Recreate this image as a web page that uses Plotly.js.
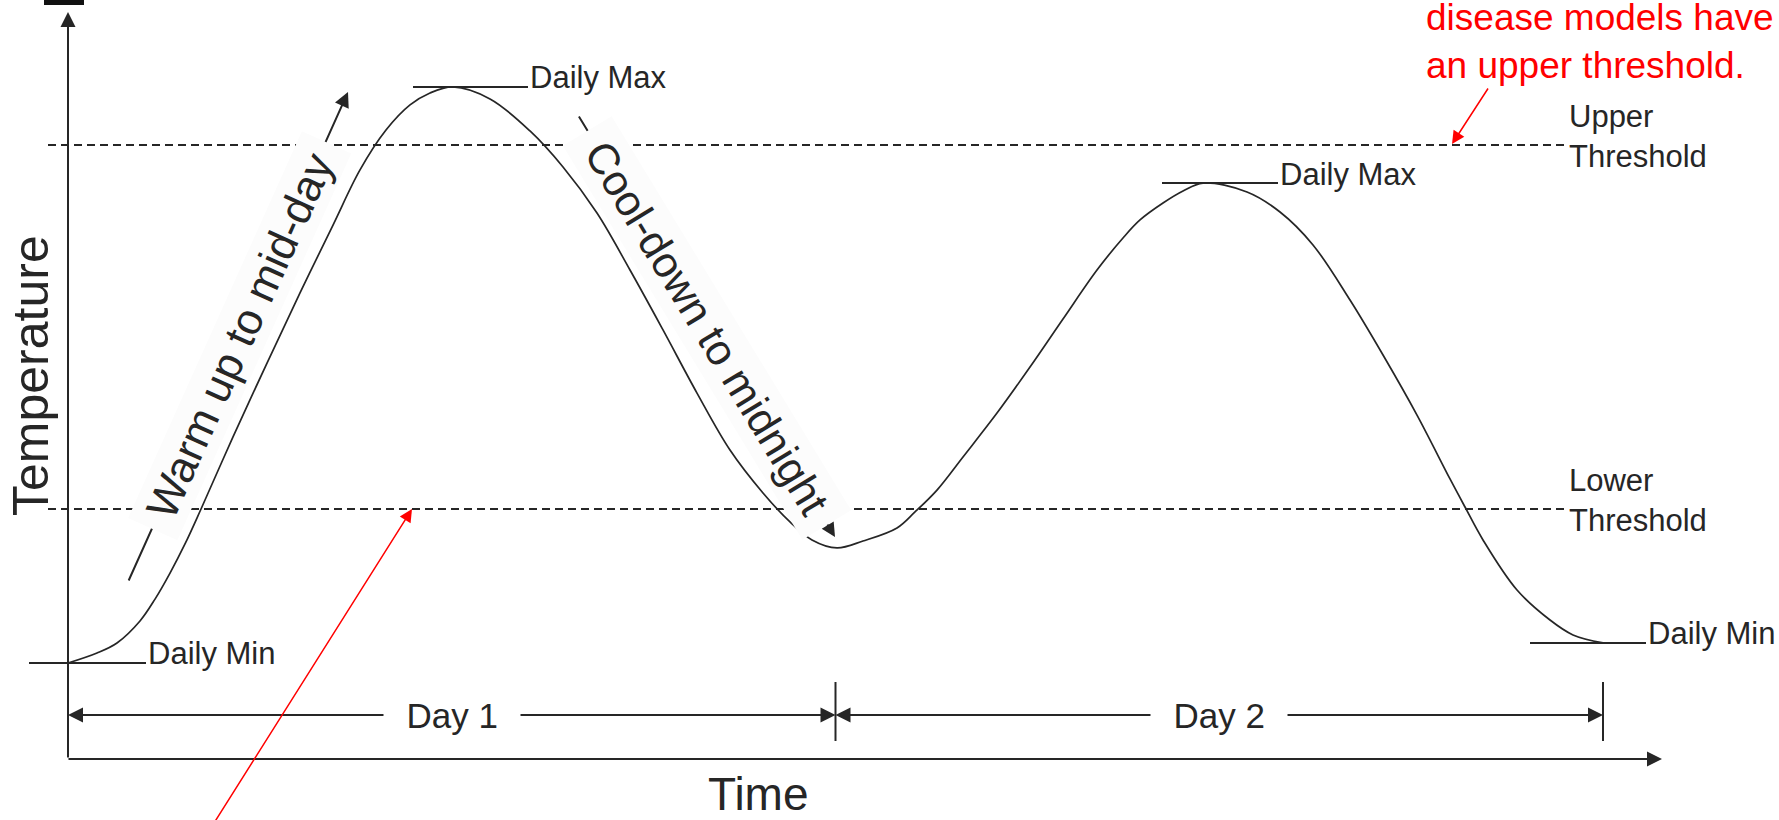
<!DOCTYPE html>
<html><head><meta charset="utf-8">
<script src="https://cdn.plot.ly/plotly-3.0.1.min.js"></script>
<style>html,body{margin:0;padding:0;background:#fff;overflow:hidden;} #chart{width:1779px;height:820px;}</style>
</head><body><div id="chart"></div>
<script>
// ---------- data ----------
const hours = [0,0.907,1.532,2.251,2.721,3.190,3.659,4.160,5.160,6.223,7.255,8.287,9.131,9.944,10.695,11.320,12.039,
  13.196,14.447,15.479,16.542,17.574,18.606,19.669,20.701,21.733,22.577,23.265,24.047,
  24.860,25.923,26.486,27.174,27.987,29.050,30.082,31.114,32.177,32.990,33.522,34.241,34.867,35.492,
  36.868,37.900,38.932,40.089,41.121,42.184,43.216,43.685,44.248,45.311,46.343,47.062,48.000];
const temperature = [1.54,2.09,2.64,3.85,5.05,6.48,8.08,10.00,13.96,18.02,21.87,25.60,28.63,30.82,32.20,32.86,33.19,
  32.53,30.77,28.79,26.26,23.13,19.84,16.37,13.24,10.88,9.29,8.30,7.86,
  8.24,8.96,9.84,11.04,12.86,15.27,17.80,20.44,23.13,24.89,25.88,26.81,27.47,27.91,
  27.42,26.32,24.51,21.48,18.46,15.16,11.65,10.11,8.30,5.55,3.90,3.08,2.64];
const thresholdNames = ['Upper<br>Threshold', 'Lower<br>Threshold'];
const thresholdValues = [30, 10];
const dayLabels = ['Day 1', 'Day 2'];
const dayStart = [0, 24];
const dayEnd = [24, 48];
const axisTitles = {y: 'Temperature', x: 'Time'};
const phaseLabels = ['Warm up to mid-day', 'Cool-down to midnight'];
const noteText = 'disease models have<br>an upper threshold.';

// ---------- geometry helpers (pixel -> axis units) ----------
const W = 1779, H = 820;
const PXH = 1535 / 48;          // pixels per hour
const PXT = 18.2;               // pixels per degree
function X(px) { return (px - 68) / PXH; }
function Y(py) { return 10 + (509 - py) / PXT; }

const INK = '#262626';
const FONT = 'Liberation Sans, Arial, Helvetica, sans-serif';

// labelled extremes
function argmax(lo, hi) { let b = lo; for (let i = lo; i <= hi; i++) if (temperature[i] > temperature[b]) b = i; return b; }
const half = hours.findIndex(h => h >= 24);
const extremes = [
  {i: 0, label: 'Daily Min', l: -39, r: 78},
  {i: argmax(0, half), label: 'Daily Max', l: -40, r: 75},
  {i: argmax(half, hours.length - 1), label: 'Daily Max', l: -41, r: 75},
  {i: hours.length - 1, label: 'Daily Min', l: -73, r: 43}
];

const traces = [{
  x: hours, y: temperature, type: 'scatter', mode: 'lines',
  line: {color: INK, width: 1.7, shape: 'spline', smoothing: 1},
  hoverinfo: 'skip', showlegend: false
}];

const shapes = [];
const annotations = [];

// threshold dashed lines + labels
thresholdValues.forEach((v, k) => {
  shapes.push({type: 'line', xref: 'x', yref: 'y', x0: X(48), x1: X(1567), y0: v, y1: v,
    line: {color: INK, width: 1.8, dash: '8px,5px'}});
  annotations.push({xref: 'x', yref: 'y', x: X(1567), y: v, yshift: 9, xanchor: 'left', yanchor: 'middle',
    align: 'left', text: thresholdNames[k], showarrow: false, font: {family: FONT, size: 31, color: INK}});
});

// extreme marker lines + labels
extremes.forEach(e => {
  shapes.push({type: 'line', xref: 'x', yref: 'y', xsizemode: 'pixel', xanchor: hours[e.i],
    x0: e.l, x1: e.r, y0: temperature[e.i], y1: temperature[e.i], line: {color: INK, width: 2}});
  annotations.push({xref: 'x', yref: 'y', x: hours[e.i], xshift: e.r, y: temperature[e.i], yshift: 9,
    xanchor: 'left', yanchor: 'middle', text: e.label, showarrow: false, font: {family: FONT, size: 31, color: INK}});
});

// axes as arrows
annotations.push({xref: 'x', yref: 'y', axref: 'x', ayref: 'y', x: X(68), y: Y(12), ax: X(68), ay: Y(759),
  text: '', showarrow: true, arrowhead: 2, arrowsize: 1.5, arrowwidth: 2, arrowcolor: INK});
annotations.push({xref: 'x', yref: 'y', axref: 'x', ayref: 'y', x: X(1662), y: Y(759), ax: X(67), ay: Y(759),
  text: '', showarrow: true, arrowhead: 2, arrowsize: 1.5, arrowwidth: 2, arrowcolor: INK});

// day spans
const dayY = Y(715);
dayLabels.forEach((d, k) => {
  const mid = (dayStart[k] + dayEnd[k]) / 2;
  [dayStart[k], dayEnd[k]].forEach(end => {
    annotations.push({xref: 'x', yref: 'y', axref: 'x', ayref: 'y', x: end, y: dayY, ax: mid, ay: dayY,
      text: '', showarrow: true, arrowhead: 2, arrowsize: 1.5, arrowwidth: 2, arrowcolor: INK});
  });
  annotations.push({xref: 'x', yref: 'y', x: mid, y: dayY, xanchor: 'center', yanchor: 'middle',
    text: '\u00a0\u00a0' + d + '\u00a0\u00a0', showarrow: false, bgcolor: '#ffffff', borderpad: 3,
    font: {family: FONT, size: 35, color: INK}});
  shapes.push({type: 'line', xref: 'x', yref: 'y', x0: dayEnd[k], x1: dayEnd[k], y0: Y(741), y1: Y(682),
    line: {color: INK, width: 2}});
});

// warm-up / cool-down arrows with labels
annotations.push({xref: 'x', yref: 'y', axref: 'x', ayref: 'y', x: X(348), y: Y(92), ax: X(128), ay: Y(582),
  text: '', showarrow: true, arrowhead: 2, arrowsize: 1.5, arrowwidth: 2, arrowcolor: INK});
annotations.push({xref: 'x', yref: 'y', axref: 'x', ayref: 'y', x: X(835), y: Y(537), ax: X(578), ay: Y(115),
  text: '', showarrow: true, arrowhead: 2, arrowsize: 1.4, arrowwidth: 2, arrowcolor: INK});
annotations.push({xref: 'x', yref: 'y', x: X(239), y: Y(336), textangle: -65.8, xanchor: 'center', yanchor: 'middle',
  text: '\u00a0' + phaseLabels[0] + '\u00a0', showarrow: false, bgcolor: '#fcfcfc', borderpad: 2,
  font: {family: FONT, size: 44, color: INK}});
annotations.push({xref: 'x', yref: 'y', x: X(707), y: Y(328), textangle: 58.7, xanchor: 'center', yanchor: 'middle',
  text: '\u00a0' + phaseLabels[1] + '\u00a0', showarrow: false, bgcolor: '#fcfcfc', borderpad: 4,
  font: {family: FONT, size: 43, color: INK}});

// red notes
annotations.push({xref: 'x', yref: 'y', axref: 'x', ayref: 'y', x: X(1452), y: Y(144), ax: X(1489), ay: Y(87),
  text: '', showarrow: true, arrowhead: 2, arrowsize: 1.7, arrowwidth: 1.5, arrowcolor: '#ff0000'});
annotations.push({xref: 'x', yref: 'y', axref: 'x', ayref: 'y', x: X(412), y: Y(509), ax: X(197), ay: Y(850),
  text: '', showarrow: true, arrowhead: 2, arrowsize: 1.7, arrowwidth: 1.5, arrowcolor: '#ff0000'});
annotations.push({xref: 'x', yref: 'y', x: X(1424), y: Y(41), xanchor: 'left', yanchor: 'middle', align: 'left',
  text: noteText, showarrow: false, font: {family: FONT, size: 37, color: '#ff0000'}});

// axis titles
annotations.push({xref: 'x', yref: 'y', x: X(31), y: Y(376), textangle: -90, xanchor: 'center', yanchor: 'middle',
  text: axisTitles.y, showarrow: false, font: {family: FONT, size: 50, color: INK}});
annotations.push({xref: 'x', yref: 'y', x: X(758), y: Y(794), xanchor: 'center', yanchor: 'middle',
  text: axisTitles.x, showarrow: false, font: {family: FONT, size: 46, color: INK}});

// small dark block cut off at the top edge
shapes.push({type: 'rect', xref: 'paper', yref: 'paper', x0: 44 / W, x1: 84 / W, y0: 1 - 5 / H, y1: 1,
  fillcolor: '#111', line: {width: 0}});

const layout = {
  width: W, height: H, margin: {l: 0, r: 0, t: 0, b: 0, pad: 0},
  paper_bgcolor: '#ffffff', plot_bgcolor: '#ffffff', showlegend: false,
  xaxis: {range: [X(0), X(W)], visible: false, fixedrange: true},
  yaxis: {range: [Y(H), Y(0)], visible: false, fixedrange: true},
  shapes: shapes, annotations: annotations
};
Plotly.newPlot('chart', traces, layout, {displayModeBar: false, staticPlot: true});
</script></body></html>
